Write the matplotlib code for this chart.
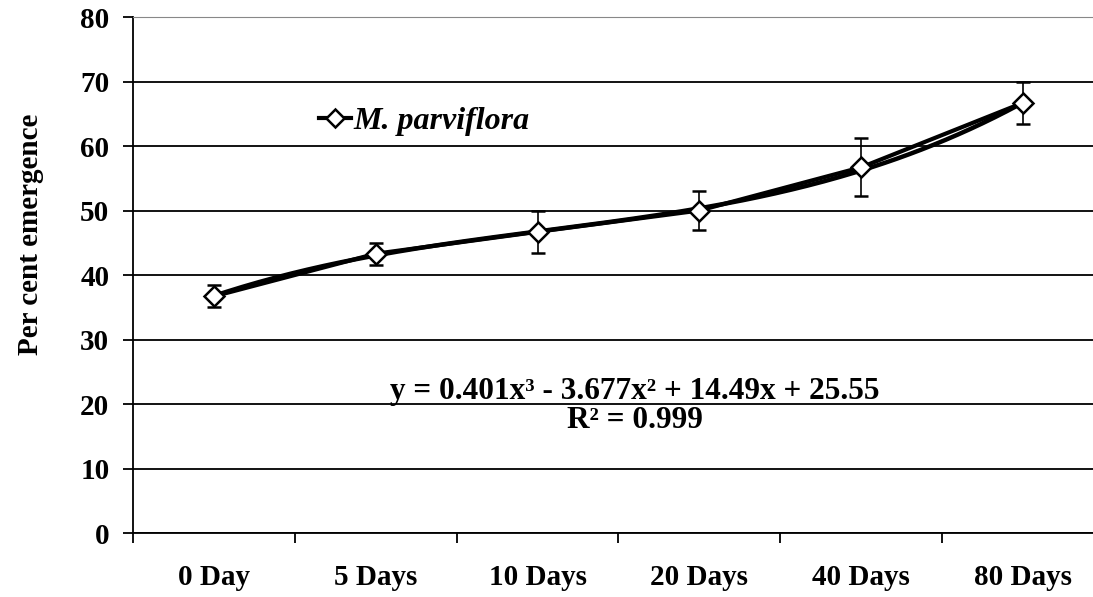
import numpy as np
import matplotlib.pyplot as plt
from matplotlib.ticker import FixedLocator
from matplotlib.lines import Line2D

categories = ["0 Day", "5 Days", "10 Days", "20 Days", "40 Days", "80 Days"]
emergence = [36.7, 43.3, 46.7, 50.0, 56.7, 66.7]
errors = [1.7, 1.7, 3.3, 3.0, 4.5, 3.3]
# cubic trendline shown on the chart: y = 0.401x^3 - 3.677x^2 + 14.49x + 25.55
trend_coef = [0.401, -3.677, 14.49, 25.55]

plt.rcParams["font.family"] = ["Liberation Serif", "DejaVu Serif"]
plt.rcParams["font.weight"] = "bold"

fig = plt.figure(figsize=(10.93, 5.97), dpi=100)
ax = fig.add_axes([0.1217, 0.1072, 0.8883, 0.8643])

x = np.arange(1, len(categories) + 1)
xs = np.linspace(1, len(categories), 200)
ax.plot(xs, np.polyval(trend_coef, xs), color="black", lw=3.2, zorder=3)
ax.errorbar(x, emergence, yerr=errors, color="black", lw=3.0, marker="D",
            markersize=10, markerfacecolor="white", markeredgecolor="black",
            markeredgewidth=1.8, ecolor="black", elinewidth=1.2, capsize=5,
            capthick=1.5, zorder=4)

ax.set_xlim(0.5, len(categories) + 0.5)
ax.set_ylim(0, 80)
ax.set_yticks(range(0, 81, 10))
ax.yaxis.grid(True, color="black", lw=1.3)
ax.set_axisbelow(True)

ax.set_xticks(x)
ax.set_xticklabels(categories, fontsize=21, fontweight="bold")
ax.xaxis.set_minor_locator(FixedLocator(np.arange(0.5, len(categories) + 1, 1)))
ax.tick_params(axis="x", which="major", length=0, pad=22)
ax.tick_params(axis="x", which="minor", length=7, width=1.3, direction="out")
ax.tick_params(axis="y", length=7, width=1.3, labelsize=21, pad=10)
for lab in ax.get_yticklabels():
    lab.set_fontweight("bold")

ax.spines["right"].set_visible(False)
ax.spines["top"].set_color("#888888")
ax.spines["left"].set_linewidth(1.3)
ax.spines["bottom"].set_linewidth(1.3)

ax.set_ylabel("Per cent emergence", fontsize=21, fontweight="bold")
ax.yaxis.set_label_coords(-0.092, 0.578)

ax.text(3.6, 22.0, "y = 0.401x³ - 3.677x² + 14.49x + 25.55", ha="center", va="center",
        fontsize=22.5, fontweight="bold")
ax.text(3.6, 17.4, "R² = 0.999", ha="center", va="center", fontsize=22.5, fontweight="bold")

handle = Line2D([], [], color="black", lw=3.0, marker="D", markersize=9,
                markerfacecolor="white", markeredgecolor="black", markeredgewidth=1.8)
ax.legend([handle], ["M. parviflora"], loc="center left", bbox_to_anchor=(0.192, 0.797),
          frameon=False, handlelength=1.0, handletextpad=0.05, borderpad=0,
          borderaxespad=0, prop={"size": 23, "weight": "bold", "style": "italic"})

fig.savefig("out.png", dpi=100)
